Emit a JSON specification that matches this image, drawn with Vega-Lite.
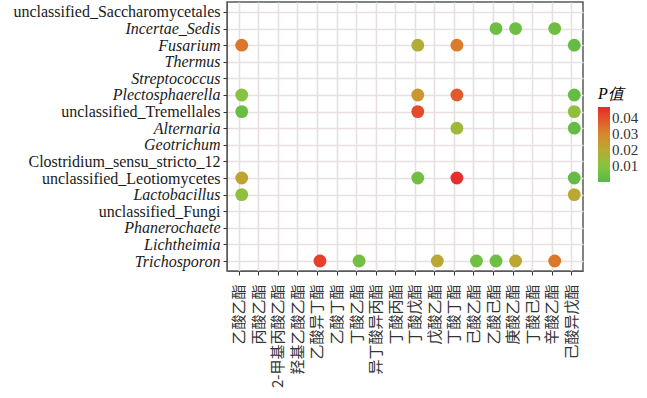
{
  "$schema": "https://vega.github.io/schema/vega-lite/v6.json",
  "width": 356,
  "height": 269,
  "autosize": {"type": "none"},
  "padding": {"left": 227, "top": 2, "right": 64, "bottom": 127},
  "background": "white",
  "config": {
    "view": {"stroke": "#5a5a5a", "strokeWidth": 1.5},
    "axis": {"gridColor": "#e8dfdf", "gridWidth": 1.6, "domainColor": "#5a5a5a", "tickColor": "#333", "tickSize": 4, "labelColor": "#1a1a1a"}
  },
  "data": {"values": [
    {"genus": "Incertae_Sedis", "ester": "乙酸己酯", "p": 0.005},
    {"genus": "Incertae_Sedis", "ester": "庚酸乙酯", "p": 0.005},
    {"genus": "Incertae_Sedis", "ester": "辛酸乙酯", "p": 0.005},
    {"genus": "Fusarium", "ester": "乙酸乙酯", "p": 0.033},
    {"genus": "Fusarium", "ester": "丁酸戊酯", "p": 0.019},
    {"genus": "Fusarium", "ester": "丁酸丁酯", "p": 0.032},
    {"genus": "Fusarium", "ester": "己酸异戊酯", "p": 0.003},
    {"genus": "Plectosphaerella", "ester": "乙酸乙酯", "p": 0.01},
    {"genus": "Plectosphaerella", "ester": "丁酸戊酯", "p": 0.026},
    {"genus": "Plectosphaerella", "ester": "丁酸丁酯", "p": 0.038},
    {"genus": "Plectosphaerella", "ester": "己酸异戊酯", "p": 0.003},
    {"genus": "unclassified_Tremellales", "ester": "乙酸乙酯", "p": 0.004},
    {"genus": "unclassified_Tremellales", "ester": "丁酸戊酯", "p": 0.041},
    {"genus": "unclassified_Tremellales", "ester": "己酸异戊酯", "p": 0.012},
    {"genus": "Alternaria", "ester": "丁酸丁酯", "p": 0.015},
    {"genus": "Alternaria", "ester": "己酸异戊酯", "p": 0.003},
    {"genus": "unclassified_Leotiomycetes", "ester": "乙酸乙酯", "p": 0.022},
    {"genus": "unclassified_Leotiomycetes", "ester": "丁酸戊酯", "p": 0.006},
    {"genus": "unclassified_Leotiomycetes", "ester": "丁酸丁酯", "p": 0.046},
    {"genus": "unclassified_Leotiomycetes", "ester": "己酸异戊酯", "p": 0.003},
    {"genus": "Lactobacillus", "ester": "乙酸乙酯", "p": 0.012},
    {"genus": "Lactobacillus", "ester": "己酸异戊酯", "p": 0.021},
    {"genus": "Trichosporon", "ester": "乙酸异丁酯", "p": 0.043},
    {"genus": "Trichosporon", "ester": "丁酸乙酯", "p": 0.006},
    {"genus": "Trichosporon", "ester": "戊酸乙酯", "p": 0.021},
    {"genus": "Trichosporon", "ester": "己酸乙酯", "p": 0.006},
    {"genus": "Trichosporon", "ester": "乙酸己酯", "p": 0.005},
    {"genus": "Trichosporon", "ester": "庚酸乙酯", "p": 0.021},
    {"genus": "Trichosporon", "ester": "辛酸乙酯", "p": 0.033}
  ]},
  "mark": {"type": "circle", "size": 165, "opacity": 1, "xOffset": 3, "clip": true},
  "encoding": {
    "x": {
      "field": "ester", "type": "nominal",
      "scale": {"type": "point", "padding": 0.6, "domain": ["乙酸乙酯", "丙酸乙酯", "2-甲基丙酸乙酯", "羟基乙酸乙酯", "乙酸异丁酯", "乙酸丁酯", "丁酸乙酯", "异丁酸异丙酯", "丁酸丙酯", "丁酸戊酯", "戊酸乙酯", "丁酸丁酯", "己酸乙酯", "乙酸己酯", "庚酸乙酯", "丁酸己酯", "辛酸乙酯", "己酸异戊酯"]},
      "axis": {"title": null, "labelAngle": 270, "labelFont": "Noto Sans CJK SC", "labelFontSize": 15, "labelPadding": 9, "grid": true, "labelColor": "#333"}
    },
    "y": {
      "field": "genus", "type": "nominal",
      "scale": {"type": "point", "padding": 0.6, "domain": ["unclassified_Saccharomycetales", "Incertae_Sedis", "Fusarium", "Thermus", "Streptococcus", "Plectosphaerella", "unclassified_Tremellales", "Alternaria", "Geotrichum", "Clostridium_sensu_stricto_12", "unclassified_Leotiomycetes", "Lactobacillus", "unclassified_Fungi", "Phanerochaete", "Lichtheimia", "Trichosporon"]},
      "axis": {"title": null, "labelFont": "Liberation Serif", "labelFontSize": 16, "labelPadding": 3, "grid": true, "labelLimit": 400,
        "labelFontStyle": {"condition": {"test": "indexof(datum.value, 'unclassified') >= 0 || indexof(datum.value, 'Clostridium') >= 0", "value": "normal"}, "value": "italic"}}
    },
    "color": {
      "field": "p", "type": "quantitative",
      "scale": {"domain": [0, 0.01, 0.02, 0.03, 0.04, 0.047], "range": ["#57b847", "#86c440", "#b8aa34", "#d6882b", "#e4502a", "#e8282a"], "interpolate": "rgb"},
      "legend": {"title": "P值", "orient": "none", "legendX": 371, "legendY": 84, "gradientLength": 75, "gradientThickness": 12, "values": [0.01, 0.02, 0.03, 0.04], "format": ".2f", "labelFont": "Liberation Serif", "labelFontSize": 15, "titleFont": "Liberation Serif", "titleFontSize": 16, "titleFontWeight": "normal", "titleFontStyle": "italic", "direction": "vertical", "gradientStrokeWidth": 0, "labelColor": "#333"}
    }
  }
}
